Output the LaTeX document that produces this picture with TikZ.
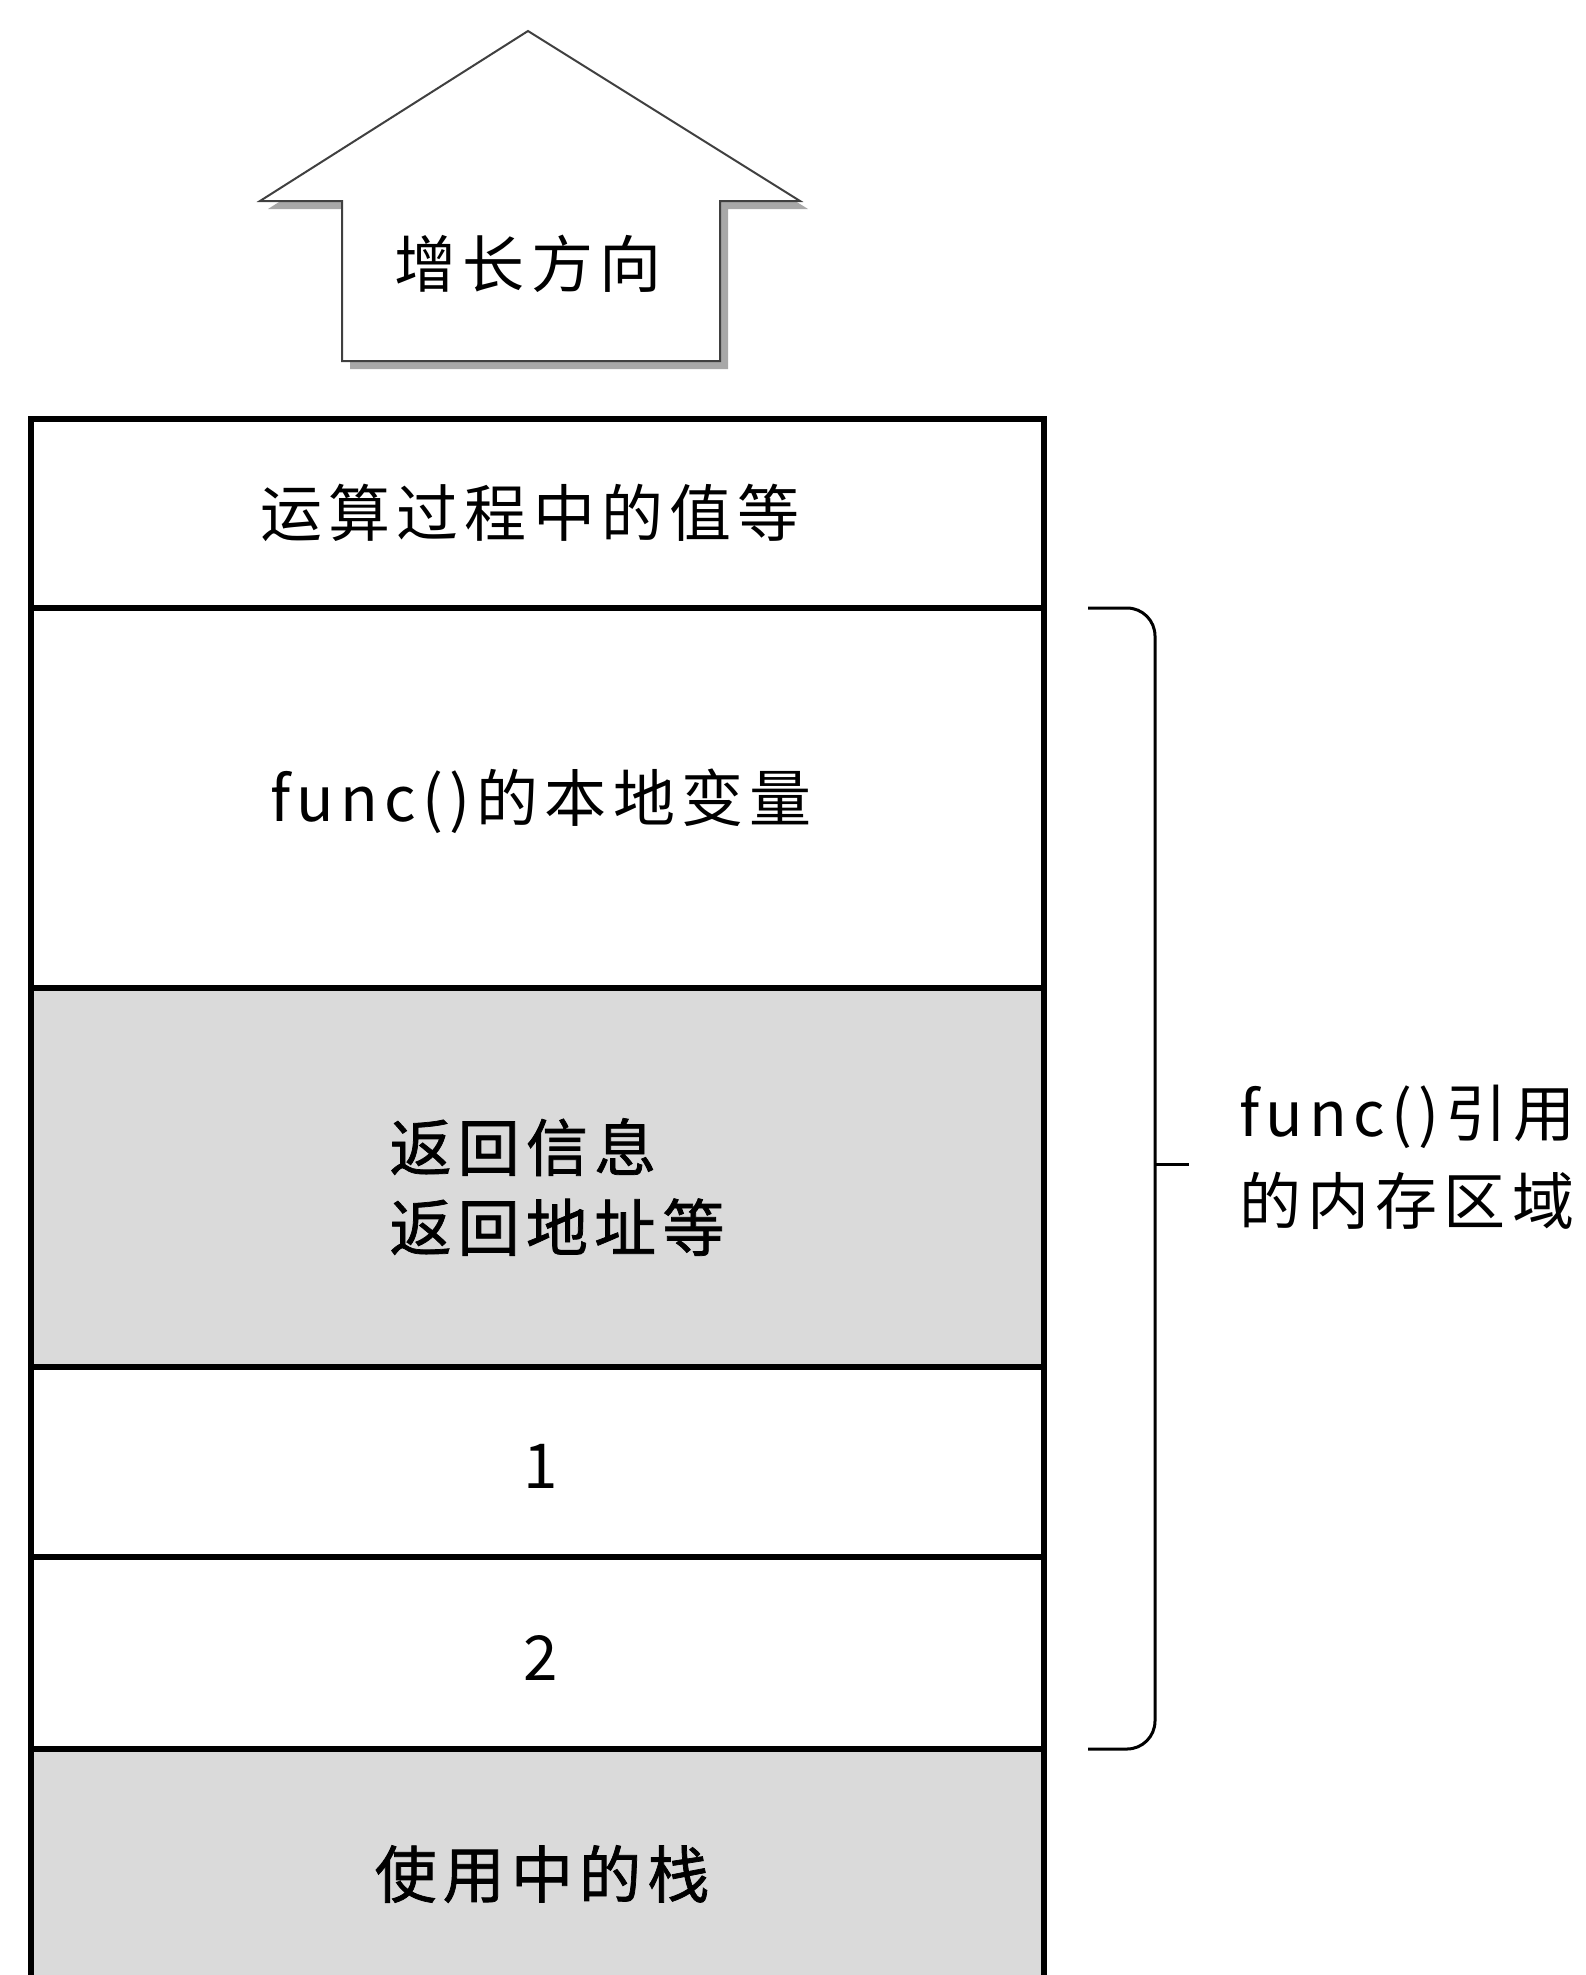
\documentclass[tikz,border=0pt]{standalone}
\usepackage{fontspec}
\setmainfont[LetterSpace=10]{Noto Sans CJK SC}
\newfontfamily\cjkb[FakeBold=1.2,LetterSpace=10]{Noto Sans CJK SC}
\definecolor{cellgray}{HTML}{DADADA}
\definecolor{shadowgray}{HTML}{A8A8A8}
\begin{document}
\begin{tikzpicture}[x=1pt,y=-1pt,
  row/.style={draw=black, line width=6pt, minimum width=1013pt, inner sep=0pt, outer sep=0pt},
  whiterow/.style={row, fill=white},
  grayrow/.style={row, fill=cellgray},
  lbl/.style={font=\fontsize{62}{80}\selectfont, inner sep=0pt, anchor=center},
  lblb/.style={font=\cjkb\fontsize{62}{80}\selectfont, inner sep=0pt, anchor=center},
  bracket/.style={draw=black, line width=3pt, rounded corners=28pt},
]
\useasboundingbox (0,0) rectangle (1585,1975);
\clip (0,0) rectangle (1585,1975);

% growth arrow with shadow
\fill[shadowgray] ([shift={(8,8)}]528,31) -- ([shift={(8,8)}]800,201) -- ([shift={(8,8)}]720,201) -- ([shift={(8,8)}]720,361) -- ([shift={(8,8)}]342,361) -- ([shift={(8,8)}]342,201) -- ([shift={(8,8)}]260,201) -- cycle;
\draw[line width=2pt, draw=black!75, fill=white, line join=miter]
  (528,31) -- (800,201) -- (720,201) -- (720,361) -- (342,361) -- (342,201) -- (260,201) -- cycle;
\node[lbl] (grow) at (528,264) {增长方向};

% stack rows
\node[grayrow, minimum height=260pt] (r6) at (537.5,1879) {};
\node[whiterow, minimum height=192pt] (r5) at (537.5,1653) {};
\node[whiterow, minimum height=190pt] (r4) at (537.5,1462) {};
\node[grayrow, minimum height=379pt] (r3) at (537.5,1177.5) {};
\node[whiterow, minimum height=380pt] (r2) at (537.5,798) {};
\node[whiterow, minimum height=189pt] (r1) at (537.5,513.5) {};

% labels
\node[lbl] (t1) at (530,513) {运算过程中的值等};
\node[lbl] (t2) at (541,801) {func()的本地变量};
\node[lblb, align=left] (t3) at (557,1187) {返回信息\\返回地址等};
\node[lbl] (t4) at (541,1466) {1};
\node[lbl] (t5) at (541,1658) {2};
\node[lblb] (t6) at (542,1874) {使用中的栈};

% bracket
\coordinate (bt) at (1088,608);
\coordinate (bb) at (1088,1749);
\coordinate (bm) at (1155,1164);
\coordinate (tick) at (1189,1164);
\draw[bracket] (bt) -- (1155,608) -- (1155,1749) -- (bb);
\draw[line width=3pt] (bm) -- (tick);
\node[font=\fontsize{62}{88}\selectfont, align=left, anchor=west, inner sep=0pt] (note) at (1239,1157) {func()引用\\的内存区域};
\end{tikzpicture}
\end{document}
